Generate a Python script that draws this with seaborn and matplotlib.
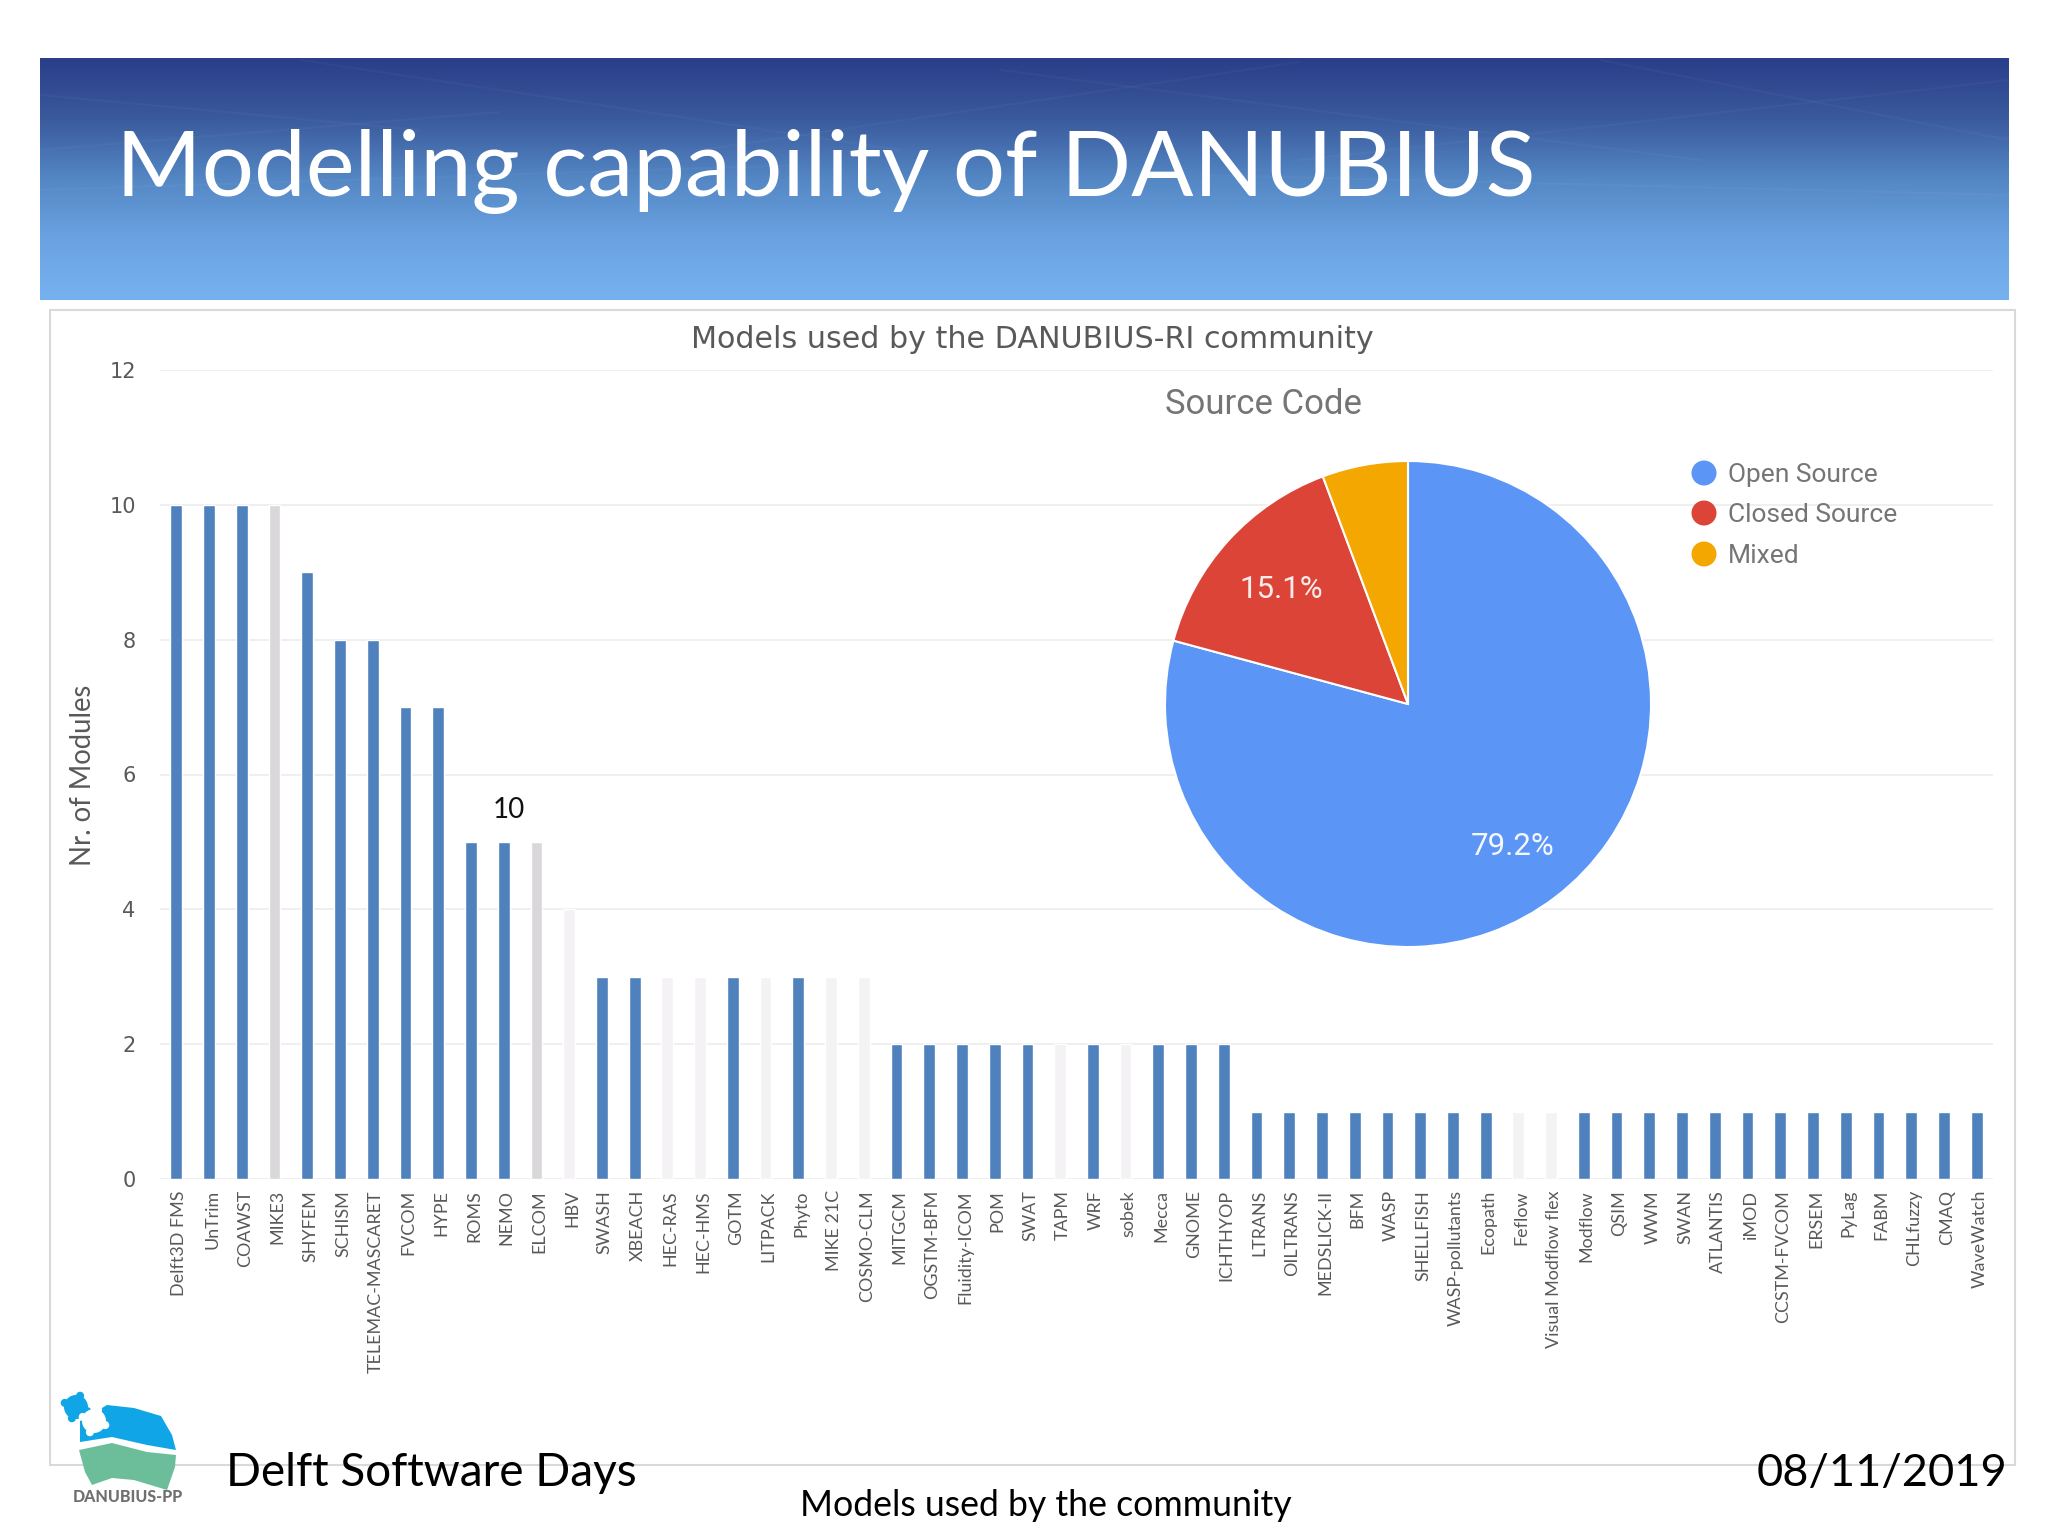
import numpy as np
import matplotlib.pyplot as plt
import matplotlib.patches as mpatches
from matplotlib.colors import LinearSegmentedColormap
from matplotlib.transforms import ScaledTranslation
import seaborn as sns

models = ['Delft3D FMS', 'UnTrim', 'COAWST', 'MIKE3', 'SHYFEM', 'SCHISM', 'TELEMAC-MASCARET',
          'FVCOM', 'HYPE', 'ROMS', 'NEMO', 'ELCOM', 'HBV', 'SWASH', 'XBEACH', 'HEC-RAS',
          'HEC-HMS', 'GOTM', 'LITPACK', 'Phyto', 'MIKE 21C', 'COSMO-CLM', 'MITGCM', 'OGSTM-BFM',
          'Fluidity-ICOM', 'POM', 'SWAT', 'TAPM', 'WRF', 'sobek', 'Mecca', 'GNOME', 'ICHTHYOP',
          'LTRANS', 'OILTRANS', 'MEDSLICK-II', 'BFM', 'WASP', 'SHELLFISH', 'WASP-pollutants',
          'Ecopath', 'Feflow', 'Visual Modflow flex', 'Modflow', 'QSIM', 'WWM', 'SWAN', 'ATLANTIS',
          'iMOD', 'CCSTM-FVCOM', 'ERSEM', 'PyLag', 'FABM', 'CHLfuzzy', 'CMAQ', 'WaveWatch']
counts = [10, 10, 10, 10, 9, 8, 8, 7, 7, 5, 5, 5, 4, 3, 3, 3, 3, 3, 3, 3, 3, 3,
          2, 2, 2, 2, 2, 2, 2, 2, 2, 2, 2,
          1, 1, 1, 1, 1, 1, 1, 1, 1, 1, 1, 1, 1, 1, 1, 1, 1, 1, 1, 1, 1, 1, 1]
mid_grey = ['MIKE3', 'ELCOM']
faint_grey = ['HBV', 'HEC-RAS', 'HEC-HMS', 'LITPACK', 'MIKE 21C', 'COSMO-CLM', 'TAPM', 'sobek',
              'Feflow', 'Visual Modflow flex']

source_labels = ['Open Source', 'Closed Source', 'Mixed']
source_share = [79.2, 15.1, 5.7]
source_colors = ['#5B95F5', '#DB4437', '#F4A700']

W, H = 2048, 1536


def box(left, top, right, bottom):
    return [left / W, 1 - bottom / H, (right - left) / W, (bottom - top) / H]


sns.set_theme(style='white')
plt.rcParams['font.family'] = ['Lato', 'DejaVu Sans']

fig = plt.figure(figsize=(20.48, 15.36), dpi=100, facecolor='white')

# slide background in pixel coordinates
bg = fig.add_axes([0, 0, 1, 1], zorder=0)
banner_cmap = LinearSegmentedColormap.from_list(
    'banner', ['#2A3E8A', '#3A5A9C', '#5487C4', '#6BA3E2', '#76B1F0'])
bg.imshow(np.linspace(0, 1, 256)[:, None], cmap=banner_cmap, aspect='auto',
          extent=(40, 2009, 300, 58), zorder=1)
bg.set_xlim(0, W)
bg.set_ylim(H, 0)
bg.axis('off')
# faint streaks in the top of the banner
for x0, y0, x1, y1 in [(40, 95, 420, 130), (40, 150, 500, 112), (300, 60, 900, 150),
                       (700, 150, 1300, 62), (1000, 70, 1700, 160), (1300, 160, 2009, 80),
                       (40, 190, 800, 165), (1200, 175, 2009, 195), (1600, 60, 2009, 140)]:
    bg.plot([x0, x1], [y0, y1], color='white', lw=1.5, alpha=0.03, zorder=2)
bg.add_patch(mpatches.Rectangle((50, 310), 1965, 1155, fc='white', ec='#D9D9D9', lw=1.5, zorder=1))

# bar chart
ax = fig.add_axes(box(160, 370, 1993, 1179), zorder=1)
ax.patch.set_alpha(0)
palette = {m: '#D9D7D9' if m in mid_grey else '#F4F2F4' if m in faint_grey else '#4F81BD'
           for m in models}
sns.barplot(x=models, y=counts, hue=models, palette=palette, legend=False,
            width=0.36, saturation=1, ax=ax)
ax.set_xlim(-0.5, len(models) - 0.5)
ax.set_ylim(0, 12)
ax.set_yticks(range(0, 13, 2))
ax.yaxis.grid(True, color='#ECECEC', lw=1.2)
ax.set_axisbelow(True)
sns.despine(ax=ax, left=True, bottom=True)
ax.tick_params(axis='y', length=0, pad=17.5, labelsize=15, labelcolor='#595959')
ax.tick_params(axis='x', length=0, pad=8, labelsize=12.9, labelcolor='#595959')
ax.set_xticks(range(len(models)))
ax.set_xticklabels(models, rotation=90, ha='center', va='top')
for tick in ax.get_yticklabels():
    tick.set_family('DejaVu Sans')
shift = ScaledTranslation(3 / 100, 0, fig.dpi_scale_trans)
for tick in ax.get_xticklabels():
    tick.set_transform(tick.get_transform() + shift)

# pie chart
pie_ax = fig.add_axes(box(1165, 461, 1651, 947), zorder=2)
wedges, _ = pie_ax.pie(source_share, colors=source_colors, startangle=90, counterclock=False,
                       radius=1, wedgeprops={'edgecolor': 'white', 'linewidth': 1.5})
pie_ax.set_xlim(-1, 1)
pie_ax.set_ylim(-1, 1)
pie_ax.text(0.43, -0.585, '79.2%', color='#F4F7FE', fontsize=22.5, family='Roboto',
            ha='center', va='center')
pie_ax.text(-0.52, 0.47, '15.1%', color='#FBEDEB', fontsize=22.5, family='Roboto',
            ha='center', va='center')

# texts and logo on top
top = fig.add_axes([0, 0, 1, 1], zorder=3)
top.set_xlim(0, W)
top.set_ylim(H, 0)
top.axis('off')
top.patch.set_alpha(0)

top.text(116, 172, 'Modelling capability of DANUBIUS', color='white', fontsize=66.4,
         ha='left', va='center')
top.text(1032, 339, 'Models used by the DANUBIUS-RI community', color='#595959', fontsize=21.7,
         family='DejaVu Sans', ha='center', va='center')
top.text(83, 775, 'Nr. of Modules', color='#595959', fontsize=19.8, rotation=90,
         ha='center', va='center')
top.text(1263, 405, 'Source Code', color='#757575', fontsize=25, family='Roboto',
         ha='center', va='center')
top.text(509, 810, '10', color='#111111', fontsize=20, ha='center', va='center')

for label, color, y in zip(source_labels, source_colors, [473, 513, 554]):
    top.add_patch(mpatches.Ellipse((1704, y), 25, 25, fc=color, ec='none'))
    top.text(1728, y + 2, label, color='#757575', fontsize=19, family='Roboto',
             ha='left', va='center')

top.text(226, 1473, 'Delft Software Days', color='black', fontsize=33, ha='left', va='center')
top.text(2007, 1474, '08/11/2019', color='black', fontsize=32.5, ha='right', va='center')
top.text(1046, 1505, 'Models used by the community', color='black', fontsize=25.7,
         ha='center', va='center')

# DANUBIUS logo
top.add_patch(mpatches.Polygon([(80, 1442), (80, 1421), (107, 1405), (134, 1408), (161, 1416),
                                (172, 1435), (176, 1450), (147, 1445), (112, 1437)],
                               fc='#0FA5E6', ec='none'))
top.add_patch(mpatches.Polygon([(79, 1450), (112, 1443), (147, 1452), (176, 1455), (175, 1467),
                                (167, 1490), (134, 1480), (112, 1478), (92, 1485), (85, 1472)],
                               fc='#6CBE9B', ec='none'))
for cx, cy, size, color in [(76, 1407, 24, '#0FA5E6'), (94, 1421, 24, 'white')]:
    top.add_patch(mpatches.Circle((cx, cy), size / 2, fc=color, ec='none'))
    for angle in np.deg2rad([20, 110, 200, 290]):
        top.add_patch(mpatches.Circle((cx + size / 2 * np.cos(angle), cy + size / 2 * np.sin(angle)),
                                      size / 6, fc=color, ec='none'))
top.text(128, 1497, 'DANUBIUS-PP', color='#6F6F6F', fontsize=11.5, weight='black',
         ha='center', va='center', family='Lato')

fig.savefig('out.png', dpi=100)
